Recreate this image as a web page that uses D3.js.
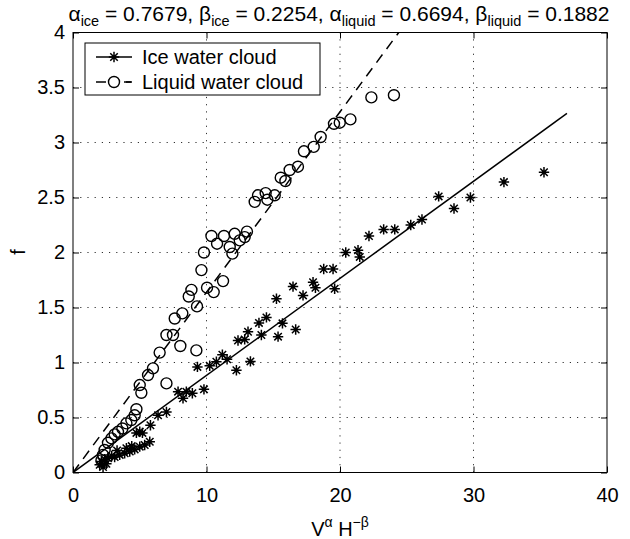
<!DOCTYPE html>
<html>
<head>
<meta charset="utf-8">
<script src="https://cdn.jsdelivr.net/npm/d3@7"></script>
<style>
  html, body { margin: 0; padding: 0; background: #fff; }
  svg { display: block; font-family: "Liberation Sans", Arial, Helvetica, sans-serif; }
</style>
</head>
<body>
<svg id="chart" width="630" height="539"></svg>
<script>
// ---- data ----
const iceX = [2.0, 2.13, 2.25, 2.37, 2.5, 2.62, 2.9, 3.12, 3.3, 3.5, 3.87, 4.0, 4.25, 4.4, 4.62, 4.75, 5.0, 5.0, 5.2, 5.37, 5.75, 5.8, 6.37, 7.0,
  7.87, 8.24, 8.49, 8.94, 9.32, 9.81, 10.24, 10.74, 11.19, 11.54, 12.24, 12.36, 12.86, 13.11, 13.29, 13.93, 14.11, 14.49, 15.24, 15.36, 15.69,
  16.48, 16.68, 17.23, 17.98, 18.16, 18.78, 19.48, 19.6, 20.43, 21.35, 21.48, 22.17, 23.27, 24.1, 25.3, 26.14, 27.39, 28.54, 29.77, 32.28, 35.28];
const iceY = [0.07, 0.10, 0.05, 0.12, 0.08, 0.13, 0.15, 0.14, 0.2, 0.16, 0.175, 0.22, 0.19, 0.24, 0.21, 0.36, 0.235, 0.37, 0.36, 0.25, 0.28, 0.43, 0.52, 0.55,
  0.735, 0.675, 0.735, 0.72, 0.96, 0.756, 0.97, 1.007, 1.07, 1.03, 0.93, 1.20, 1.21, 1.28, 1.01, 1.36, 1.25, 1.41, 1.58, 1.235, 1.356,
  1.69, 1.30, 1.61, 1.73, 1.68, 1.85, 1.85, 1.67, 2.0, 2.02, 1.96, 2.15, 2.21, 2.21, 2.25, 2.30, 2.51, 2.40, 2.50, 2.64, 2.73];

const liquidX = [2.13, 2.25, 2.37, 2.62, 2.88, 3.12, 3.37, 3.70, 4.0, 4.37, 4.62, 4.75, 5.0, 5.12, 5.62, 5.99, 6.49, 7.0, 7.0, 7.49, 7.62, 8.04,
  8.19, 8.67, 8.87, 9.24, 9.29, 9.62, 9.81, 10.04, 10.37, 10.54, 10.79, 11.24, 11.31, 11.74, 11.94, 12.11, 12.49, 12.86, 13.03, 13.61, 13.86,
  14.43, 14.56, 15.11, 15.56, 15.91, 16.23, 16.85, 17.3, 18.03, 18.55, 19.55, 19.98, 20.78, 22.35, 24.04];
const liquidY = [0.11, 0.16, 0.205, 0.27, 0.31, 0.347, 0.37, 0.40, 0.447, 0.477, 0.52, 0.575, 0.795, 0.725, 0.886, 0.947, 1.09, 0.81, 1.25, 1.25, 1.40, 1.15,
  1.447, 1.60, 1.66, 1.11, 1.51, 1.84, 2.0, 1.68, 2.15, 1.64, 2.08, 1.74, 2.15, 2.05, 1.99, 2.17, 2.11, 2.14, 2.19, 2.46, 2.52,
  2.54, 2.48, 2.52, 2.68, 2.65, 2.75, 2.78, 2.92, 2.96, 3.05, 3.17, 3.18, 3.21, 3.41, 3.43];

const iceFitX = [0, 37];
const iceFitY = [0, 3.265];
const liquidFitX = [0, 24.4];
const liquidFitY = [0, 4.0];

const xTicks = [0, 10, 20, 30, 40];
const yTicks = [0, 0.5, 1, 1.5, 2, 2.5, 3, 3.5, 4];
const legendLabels = ["Ice water cloud", "Liquid water cloud"];

// ---- layout ----
const L = 73, R = 607, T = 32.5, B = 472.5;
const svg = d3.select("#chart");
const x = d3.scaleLinear().domain([0, 40]).range([L, R]);
const y = d3.scaleLinear().domain([0, 4]).range([B, T]);

// grid
const grid = svg.append("g").attr("stroke", "#000").attr("stroke-width", 1)
  .attr("stroke-dasharray", "1.2,6").attr("opacity", 0.8);
grid.selectAll(".gx").data(xTicks.slice(1, -1)).enter().append("line")
  .attr("x1", d => x(d)).attr("x2", d => x(d)).attr("y1", B).attr("y2", T);
grid.selectAll(".gy").data(yTicks.slice(1, -1)).enter().append("line")
  .attr("y1", d => y(d)).attr("y2", d => y(d)).attr("x1", L).attr("x2", R);

// axes
function styleAxis(g) {
  g.select(".domain").remove();
  g.selectAll(".tick line").attr("stroke", "#000").attr("stroke-width", 1);
  g.selectAll(".tick text").attr("fill", "#000").style("font-size", "20px")
    .style("font-family", '"Liberation Sans", Arial, sans-serif');
}
svg.append("g").attr("transform", `translate(0,${B})`)
  .call(d3.axisBottom(x).tickValues(xTicks).tickFormat(d3.format("d")).tickSize(-6).tickPadding(15))
  .call(styleAxis);
svg.append("g").attr("transform", `translate(0,${T})`)
  .call(d3.axisTop(x).tickValues(xTicks).tickFormat("").tickSize(-6))
  .call(styleAxis);
svg.append("g").attr("transform", `translate(${L},0)`)
  .call(d3.axisLeft(y).tickValues(yTicks).tickFormat(d => String(d)).tickSize(-6).tickPadding(8))
  .call(styleAxis);
svg.append("g").attr("transform", `translate(${R},0)`)
  .call(d3.axisRight(y).tickValues(yTicks).tickFormat("").tickSize(-6))
  .call(styleAxis);

svg.append("rect").attr("x", L).attr("y", T).attr("width", R - L).attr("height", B - T)
  .attr("fill", "none").attr("stroke", "#000").attr("stroke-width", 1);

// clip
svg.append("clipPath").attr("id", "clip").append("rect")
  .attr("x", L).attr("y", T).attr("width", R - L).attr("height", B - T);
const plot = svg.append("g").attr("clip-path", "url(#clip)");

const line = d3.line().x(d => x(d[0])).y(d => y(d[1]));

// fit lines
plot.append("path").datum(iceFitX.map((v, i) => [v, iceFitY[i]]))
  .attr("d", line).attr("fill", "none").attr("stroke", "#000").attr("stroke-width", 1.5);
plot.append("path").datum(liquidFitX.map((v, i) => [v, liquidFitY[i]]))
  .attr("d", line).attr("fill", "none").attr("stroke", "#000").attr("stroke-width", 1.5)
  .attr("stroke-dasharray", "10,7");

// markers
function starPath(s) {
  const d = s * 0.72;
  return `M${-s},0H${s}M0,${-s}V${s}M${-d},${-d}L${d},${d}M${-d},${d}L${d},${-d}`;
}
plot.selectAll(".ice").data(iceX.map((v, i) => [v, iceY[i]])).enter().append("path")
  .attr("transform", d => `translate(${x(d[0])},${y(d[1])})`)
  .attr("d", starPath(5.2)).attr("fill", "none").attr("stroke", "#000").attr("stroke-width", 1.5);
plot.selectAll(".liq").data(liquidX.map((v, i) => [v, liquidY[i]])).enter().append("circle")
  .attr("cx", d => x(d[0])).attr("cy", d => y(d[1])).attr("r", 5.5)
  .attr("fill", "none").attr("stroke", "#000").attr("stroke-width", 1.4);

// legend
const lg = svg.append("g");
lg.append("rect").attr("x", 85).attr("y", 43).attr("width", 235).attr("height", 52)
  .attr("fill", "#fff").attr("stroke", "#000").attr("stroke-width", 1);
const rows = [57, 82];
lg.append("line").attr("x1", 96).attr("x2", 132).attr("y1", rows[0]).attr("y2", rows[0])
  .attr("stroke", "#000").attr("stroke-width", 1.5);
lg.append("path").attr("transform", `translate(114,${rows[0]})`).attr("d", starPath(5.2))
  .attr("fill", "none").attr("stroke", "#000").attr("stroke-width", 1.5);
lg.append("line").attr("x1", 96).attr("x2", 132).attr("y1", rows[1]).attr("y2", rows[1])
  .attr("stroke", "#000").attr("stroke-width", 1.5).attr("stroke-dasharray", "10,18");
lg.append("circle").attr("cx", 114).attr("cy", rows[1]).attr("r", 5.5)
  .attr("fill", "#fff").attr("stroke", "#000").attr("stroke-width", 1.4);
lg.append("line").attr("x1", 126).attr("x2", 131).attr("y1", rows[1]).attr("y2", rows[1])
  .attr("stroke", "#000").attr("stroke-width", 1.5);
lg.selectAll(".lt").data(legendLabels).enter().append("text")
  .attr("x", 142).attr("y", (d, i) => rows[i] + 7).attr("font-size", 20).attr("fill", "#000").text(d => d);

// title
const title = svg.append("text").attr("x", 339).attr("y", 21).attr("text-anchor", "middle")
  .attr("font-size", 21).attr("fill", "#000");
const parts = [["α", "ice", " = 0.7679, "], ["β", "ice", " = 0.2254, "], ["α", "liquid", " = 0.6694, "], ["β", "liquid", " = 0.1882"]];
parts.forEach(p => {
  title.append("tspan").text(p[0]);
  title.append("tspan").attr("dy", 5).attr("font-size", 14.5).text(p[1]);
  title.append("tspan").attr("dy", -5).text(p[2].replace(/ /g, "\u00a0"));
});

// x label
const xl = svg.append("text").attr("x", 340).attr("y", 536).attr("text-anchor", "middle")
  .attr("font-size", 20).attr("fill", "#000");
xl.append("tspan").text("V");
xl.append("tspan").attr("dy", -9).attr("font-size", 14).text("α");
xl.append("tspan").attr("dy", 9).text("\u00a0H");
xl.append("tspan").attr("dy", -9).attr("font-size", 14).text("−β");

// y label
svg.append("text").attr("transform", `translate(25,252) rotate(-90)`).attr("text-anchor", "middle")
  .attr("font-size", 20).attr("fill", "#000").text("f");
</script>
</body>
</html>
